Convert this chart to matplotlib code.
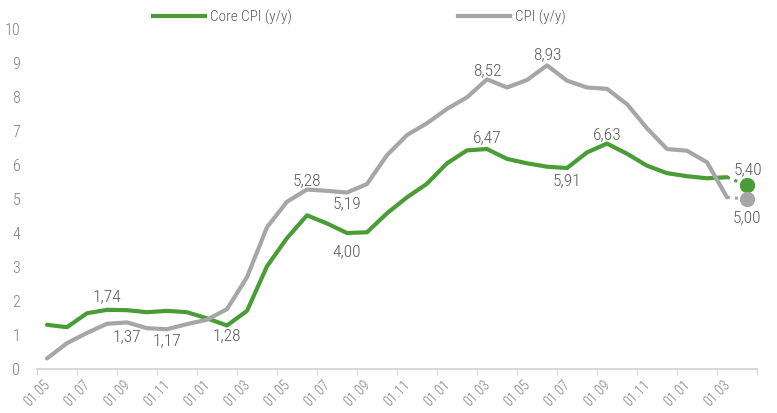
import matplotlib
matplotlib.use("Agg")
import matplotlib.pyplot as plt
from matplotlib.lines import Line2D
from matplotlib import font_manager as fm

# ---------------- data ----------------
x_labels = ["01.05", "01.07", "01.09", "01.11", "01.01", "01.03",
            "01.05", "01.07", "01.09", "01.11", "01.01", "01.03",
            "01.05", "01.07", "01.09", "01.11", "01.01", "01.03"]

core_cpi = [1.30, 1.23, 1.64, 1.74, 1.73, 1.67, 1.71, 1.67, 1.49, 1.28,
            1.71, 3.02, 3.85, 4.52, 4.28, 4.00, 4.02, 4.58, 5.05, 5.45,
            6.05, 6.43, 6.47, 6.18, 6.05, 5.95, 5.91, 6.37, 6.63, 6.33,
            5.98, 5.76, 5.67, 5.61, 5.64]
cpi = [0.31, 0.76, 1.06, 1.33, 1.37, 1.20, 1.17, 1.32, 1.45, 1.76,
       2.70, 4.17, 4.92, 5.28, 5.24, 5.19, 5.44, 6.29, 6.88, 7.23,
       7.65, 7.99, 8.52, 8.28, 8.50, 8.93, 8.48, 8.28, 8.24, 7.79,
       7.08, 6.47, 6.42, 6.08, 5.05]
core_forecast = 5.40
cpi_forecast = 5.00

series_names = ["Core CPI (y/y)", "CPI (y/y)"]

# ---------------- style ----------------
GREEN = "#4a9d36"
GREY = "#a6a6a6"
TXT = "#595959"
TICK = "#7f7f7f"

avail = {f.name for f in fm.fontManager.ttflist}
fam = [f for f in ["Roboto Condensed", "Liberation Sans Narrow", "Roboto", "DejaVu Sans"] if f in avail]
plt.rcParams["font.family"] = fam
plt.rcParams["font.weight"] = "light"

fig = plt.figure(figsize=(7.77, 4.13), dpi=100)
ax = fig.add_axes([37 / 777, 1 - 369 / 413, 720 / 777, 340 / 413])

n = len(core_cpi)
xs = list(range(n))
xf = n  # forecast position

ax.plot(xs, core_cpi, color=GREEN, lw=3, solid_capstyle="round", solid_joinstyle="round")
ax.plot(xs, cpi, color=GREY, lw=3, solid_capstyle="round", solid_joinstyle="round")
ax.plot([xs[-1], xf], [core_cpi[-1], core_forecast], color=GREEN, lw=2.2,
        ls=(0, (1, 1.6)), dash_capstyle="butt")
ax.plot([xs[-1], xf], [cpi[-1], cpi_forecast], color=GREY, lw=2.2,
        ls=(0, (1, 1.6)), dash_capstyle="butt")
ax.plot([xf], [core_forecast], "o", color=GREEN, ms=10, mec=GREEN)
ax.plot([xf], [cpi_forecast], "o", color=GREY, ms=10, mec=GREY)

ax.set_xlim(-0.5, n + 0.5)
ax.set_ylim(0, 10)

# x axis: ticks every 2 categories at category boundaries
tick_pos = [i - 0.5 for i in range(0, n + 2, 2)]
ax.set_xticks(tick_pos)
ax.set_xticklabels(x_labels + [""] * (len(tick_pos) - len(x_labels)),
                   rotation=45, ha="center", va="top", fontsize=10, color=TICK)
ax.tick_params(axis="x", length=4, width=1, color="#d9d9d9", pad=2)

ax.set_yticks(range(0, 11))
ax.set_yticklabels([str(v) for v in range(0, 11)], fontsize=11.5, color=TICK)
ax.tick_params(axis="y", length=0, pad=12)

for s in ["top", "right", "left"]:
    ax.spines[s].set_visible(False)
ax.spines["bottom"].set_color("#d9d9d9")
ax.spines["bottom"].set_linewidth(1.5)

def fmt(v):
    return f"{v:.2f}".replace(".", ",")

# (series, index, above?, offset in points)
annos = [
    (core_cpi, 3, True, 4), (core_cpi, 9, False, 2), (core_cpi, 15, False, 8),
    (core_cpi, 22, True, 3), (core_cpi, 26, False, 4), (core_cpi, 28, True, 1),
    (cpi, 4, False, 5), (cpi, 6, False, 3), (cpi, 13, True, 1),
    (cpi, 15, False, 3), (cpi, 22, True, 1), (cpi, 25, True, 2),
]
for ser, i, above, off in annos:
    ax.annotate(fmt(ser[i]), (i, ser[i]), xytext=(0, off if above else -off),
                textcoords="offset points", ha="center",
                va="bottom" if above else "top", fontsize=12.5, color=TXT)
ax.annotate(fmt(core_forecast), (xf, core_forecast), xytext=(1, 6),
            textcoords="offset points", ha="center", va="bottom", fontsize=12.5, color=TXT)
ax.annotate(fmt(cpi_forecast), (xf, cpi_forecast), xytext=(0, -8),
            textcoords="offset points", ha="center", va="top", fontsize=12.5, color=TXT)

# legend
h1 = Line2D([], [], color=GREEN, lw=3)
h2 = Line2D([], [], color=GREY, lw=3)
kw = dict(frameon=False, loc="center left", fontsize=11, handlelength=3.4,
          handletextpad=0.35, borderpad=0, borderaxespad=0, labelcolor=TXT)
leg1 = fig.legend([h1], [series_names[0]], bbox_to_anchor=(153 / 777, 1 - 17 / 413), **kw)
leg2 = fig.legend([h2], [series_names[1]], bbox_to_anchor=(458 / 777, 1 - 17 / 413), **kw)

fig.savefig("out.png", dpi=100)
